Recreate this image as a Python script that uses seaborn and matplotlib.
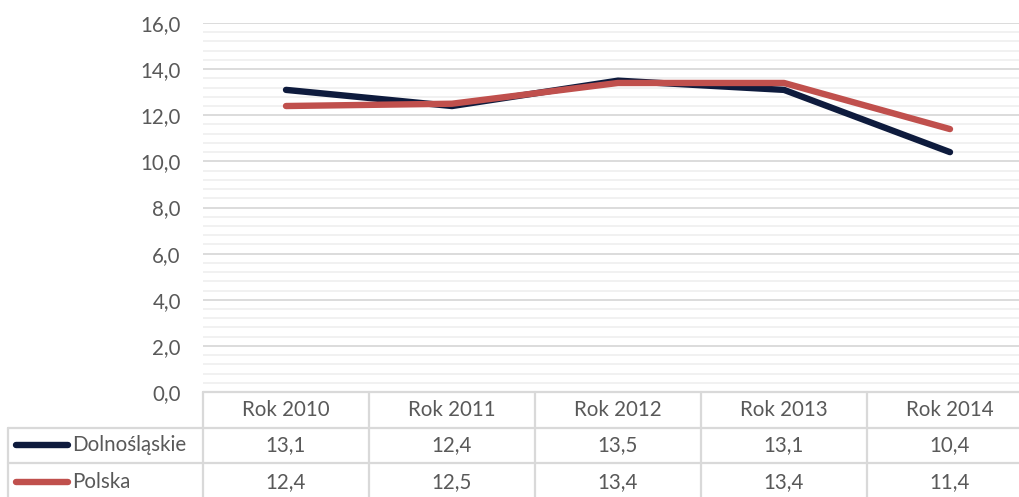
import matplotlib
matplotlib.use("Agg")
import matplotlib.pyplot as plt
import matplotlib.transforms as mtransforms
from matplotlib.lines import Line2D
from matplotlib.ticker import MultipleLocator, FuncFormatter
import seaborn as sns
import pandas as pd

categories = ["Rok 2010", "Rok 2011", "Rok 2012", "Rok 2013", "Rok 2014"]
dolnoslaskie = [13.1, 12.4, 13.5, 13.1, 10.4]
polska = [12.4, 12.5, 13.4, 13.4, 11.4]
series_names = ["Dolnośląskie", "Polska"]
colors = ["#0E1B3D", "#C0504D"]

sns.set_theme(style="white")
plt.rcParams['font.family'] = ['Lato', 'DejaVu Sans']

W, H = 1019, 497
fig = plt.figure(figsize=(W / 100, H / 100), dpi=100)

FS = 14.8

def fx(px):
    return px / W

def fy(py):
    return 1 - py / H

left_px, right_px, top_px, bot_px = 203, 1033, 23, 392
ax = fig.add_axes([fx(left_px), fy(bot_px), fx(right_px - left_px), (bot_px - top_px) / H])

df = pd.DataFrame({
    "x": list(range(len(categories))) * 2,
    "value": dolnoslaskie + polska,
    "series": [series_names[0]] * len(categories) + [series_names[1]] * len(categories),
})
sns.lineplot(data=df, x="x", y="value", hue="series", palette=colors, linewidth=4.6,
             legend=False, ax=ax, zorder=3)
for ln in ax.lines:
    ln.set_solid_capstyle("round")
    ln.set_solid_joinstyle("round")

ax.set_xlim(-0.5, len(categories) - 0.5)
ax.set_ylim(0, 16)
ax.yaxis.set_major_locator(MultipleLocator(2))
ax.yaxis.set_minor_locator(MultipleLocator(0.4))
ax.yaxis.set_major_formatter(FuncFormatter(lambda v, p: f"{v:.1f}".replace(".", ",")))
ax.grid(True, which="major", axis="y", color="#D9D9D9", linewidth=1.3, zorder=0)
ax.grid(True, which="minor", axis="y", color="#F0F0F0", linewidth=1.3, zorder=0)
ax.set_xticks([])
ax.set_xlabel("")
ax.set_ylabel("")
for s in ax.spines.values():
    s.set_visible(False)
ax.tick_params(axis="y", which="both", length=0, pad=16, labelsize=FS, labelcolor="#595959")

# data table
txt_color = "#595959"
grid_c = "#D9D9D9"
blend = mtransforms.blended_transform_factory(ax.transData, fig.transFigure)
row_centers_px = [410, 445, 482]

fig.add_artist(Line2D([fx(203), fx(1040)], [fy(392), fy(392)], color=grid_c, lw=1.6))
for py in [428, 463]:
    fig.add_artist(Line2D([fx(8), fx(1040)], [fy(py), fy(py)], color=grid_c, lw=1.6))
for i in range(len(categories) + 1):
    xd = i - 0.5
    fig.add_artist(Line2D([xd, xd], [fy(392), fy(H + 5)], color=grid_c, lw=1.6, transform=blend))
fig.add_artist(Line2D([fx(8), fx(8)], [fy(428), fy(H + 5)], color=grid_c, lw=1.6))

for i, c in enumerate(categories):
    fig.text(i, fy(row_centers_px[0]), c, transform=blend, ha="center", va="center",
             fontsize=FS, color=txt_color)
for r, (vals, name, col) in enumerate(zip([dolnoslaskie, polska], series_names, colors)):
    yc = fy(row_centers_px[r + 1])
    for i, v in enumerate(vals):
        fig.text(i, yc, f"{v:.1f}".replace(".", ","), transform=blend, ha="center", va="center",
                 fontsize=FS, color=txt_color)
    fig.add_artist(Line2D([fx(16), fx(68)], [yc, yc], color=col, lw=4.6, solid_capstyle="round"))
    fig.text(fx(72), yc, name, ha="left", va="center", fontsize=FS, color=txt_color)

fig.savefig("out.png", dpi=100)
